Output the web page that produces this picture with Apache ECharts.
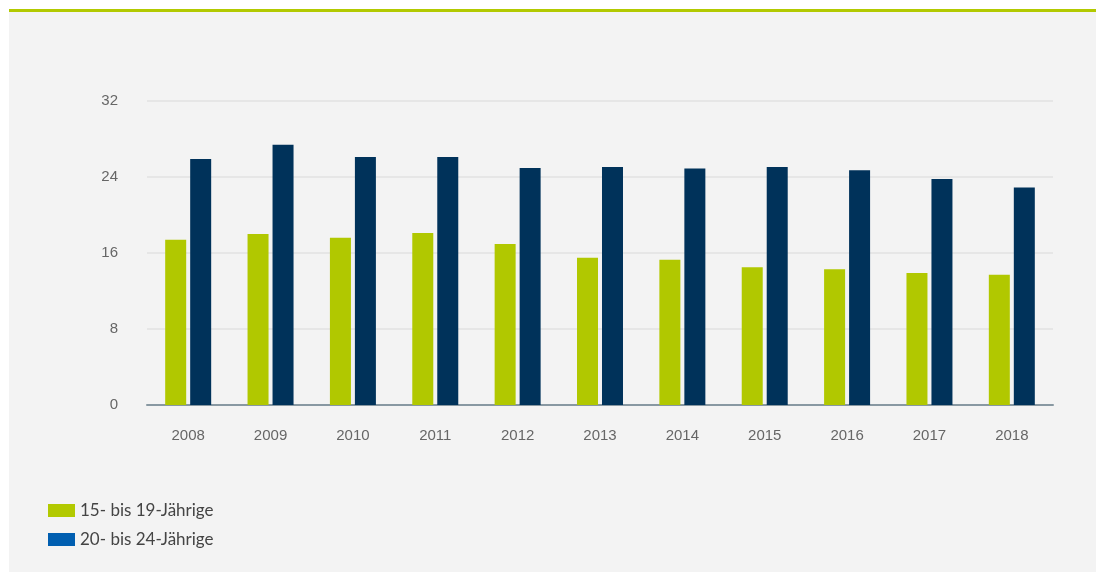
<!DOCTYPE html>
<html>
<head>
<meta charset="utf-8">
<script src="https://cdn.jsdelivr.net/npm/echarts@6/dist/echarts.min.js"></script>
<style>
html,body{margin:0;padding:0;background:#fff;}
#c{width:1096px;height:572px;}
</style>
</head>
<body>
<div id="c"></div>
<script>
const categories = ['2008','2009','2010','2011','2012','2013','2014','2015','2016','2017','2018'];
const series1Name = '15- bis 19-Jährige';
const series2Name = '20- bis 24-Jährige';
const series1 = [17.4, 18.0, 17.6, 18.1, 16.95, 15.5, 15.3, 14.5, 14.3, 13.9, 13.7];
const series2 = [25.9, 27.4, 26.1, 26.1, 24.95, 25.05, 24.9, 25.05, 24.7, 23.8, 22.9];
const yTicks = [0, 8, 16, 24, 32];

const chart = echarts.init(document.getElementById('c'), null, {renderer:'canvas'});
chart.setOption({
  backgroundColor: '#ffffff',
  animation: false,
  graphic: [
    {type:'rect', shape:{x:9, y:12, width:1087, height:560}, style:{fill:'#f3f3f3'}, z:-10, silent:true},
    {type:'rect', shape:{x:9, y:9, width:1087, height:3}, style:{fill:'#b2c900'}, z:-9, silent:true}
  ],
  grid: {left:147, right:43, top:101, bottom:167, containLabel:false},
  legend: {
    orient:'vertical', left:48, top:502, padding:0, itemWidth:27, itemHeight:13, itemGap:12,
    icon:'rect',
    textStyle:{color:'#444', fontSize:17, fontFamily:'Lato'},
    data:[
      {name:series1Name, itemStyle:{color:'#b2c900'}},
      {name:series2Name, itemStyle:{color:'#005eb0'}}
    ]
  },
  xAxis: {
    type:'category', data:categories,
    axisLine:{lineStyle:{color:'#8898a2', width:2}},
    axisTick:{show:false},
    axisLabel:{color:'#666', fontSize:15, fontFamily:'Liberation Sans', margin:23}
  },
  yAxis: {
    type:'value', min:yTicks[0], max:yTicks[yTicks.length-1], interval:8,
    axisLine:{show:false}, axisTick:{show:false},
    splitLine:{lineStyle:{color:'#e6e6e6', width:2}},
    axisLabel:{color:'#666', fontSize:15, fontFamily:'Liberation Sans', margin:29}
  },
  series: [
    {name:series1Name, type:'bar', data:series1, barWidth:21, barGap:'19%', itemStyle:{color:'#b1c800'}},
    {name:series2Name, type:'bar', data:series2, barWidth:21, barGap:'19%', itemStyle:{color:'#00325a'}}
  ]
});
</script>
</body>
</html>
